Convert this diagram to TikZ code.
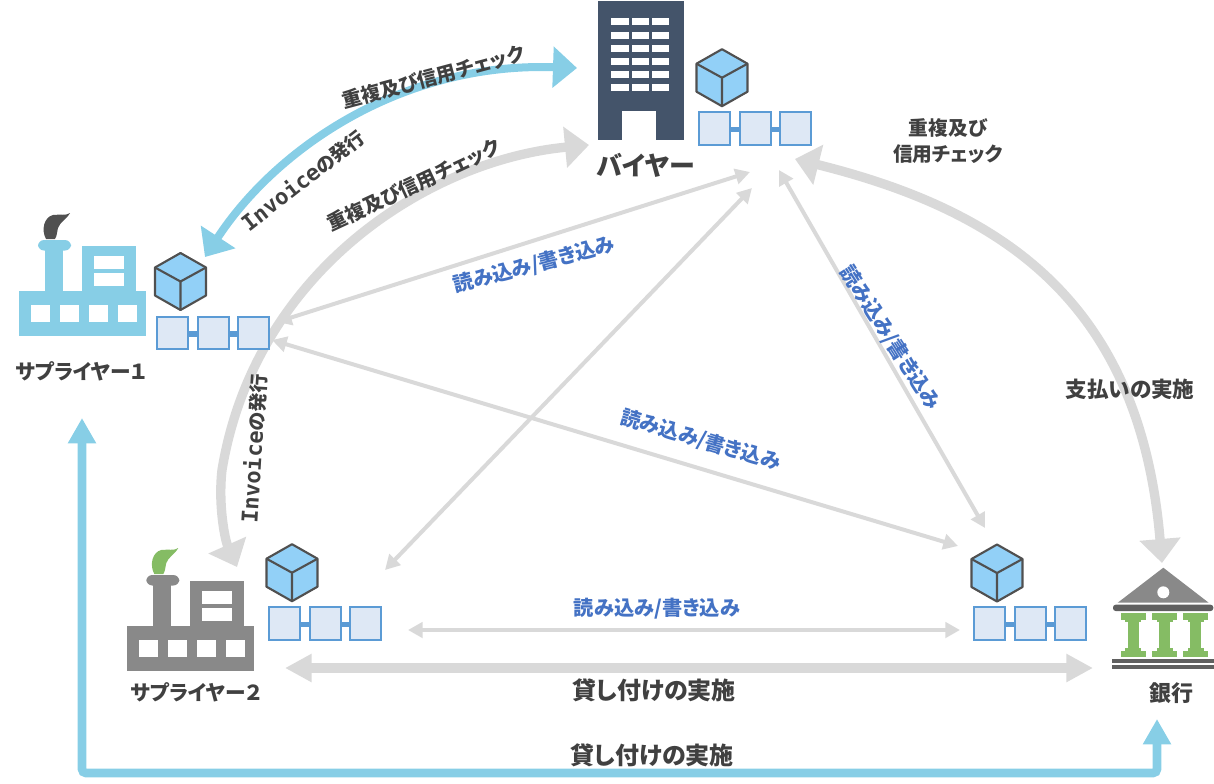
\documentclass[tikz,border=0pt]{standalone}
\usepackage{fontspec}
\setmainfont[RawFeature=+palt]{Noto Sans CJK JP}
\newfontfamily\monolatin{DejaVu Sans Mono}
\usetikzlibrary{arrows.meta}
\definecolor{gline}{HTML}{D9D9D9}
\definecolor{sky}{HTML}{87CEE6}
\definecolor{txt}{HTML}{404040}
\definecolor{bluetxt}{HTML}{4472C4}
\definecolor{chainfill}{HTML}{DEE8F5}
\definecolor{chainline}{HTML}{5B9BD5}
\definecolor{cubefill}{HTML}{92D0F7}
\definecolor{cubeline}{HTML}{505050}
\definecolor{navy}{HTML}{44546A}
\definecolor{fgray}{HTML}{898989}
\definecolor{leaf}{HTML}{85BC64}
\definecolor{bankdark}{HTML}{606060}
\tikzset{
  px/.style={x=0.75pt,y=-0.75pt},
  lbl/.style={font=\bfseries\fontsize{#1}{#1}\selectfont,text=txt,inner sep=0pt,align=center},
  bl/.style={font=\bfseries\fontsize{15.2}{16}\selectfont,text=bluetxt,inner sep=0pt},
  thinarrow/.style={draw=gline,line width=3pt,{Triangle[length=11pt,width=11.5pt]}-{Triangle[length=11pt,width=11.5pt]}},
  midarrow/.style={draw=gline,line width=7pt,{Triangle[length=20pt,width=20pt]}-{Triangle[length=20pt,width=20pt]}},
  bigcurve/.style={line width=#1,{Triangle[length=18pt,width=30pt]}-{Triangle[length=18pt,width=30pt]}},
  elbow/.style={draw=sky,line width=6.5pt,rounded corners=3pt,{Triangle[length=19pt,width=20pt]}-{Triangle[length=19pt,width=20pt]}},
  cubeface/.style={draw=cubeline,line width=1.6pt,line join=round,fill=cubefill},
  chainbox/.style={draw=chainline,line width=1.5pt,fill=chainfill},
  pics/cube/.style={code={
    \draw[cubeface] (-25.5,-14) -- (0,-28.5) -- (25.5,-14) -- (25.5,14) -- (0,28.5) -- (-25.5,14) -- cycle;
    \draw[cubeline,line width=1.6pt,line join=round] (-25.5,-14) -- (0,0) -- (25.5,-14) (0,0) -- (0,28.5);
  }},
  pics/chain/.style={code={
    \fill[chainline] (30,14.5) rectangle (85,20);
    \draw[chainbox] (0.5,0) rectangle (31.5,32.5);
    \draw[chainbox] (41.5,0) rectangle (72.5,32.5);
    \draw[chainbox] (81.5,0) rectangle (112.5,32.5);
  }}
}
\newcommand{\factoryicon}[4]{%
  \begin{scope}[shift={(#1,#2)}]
    \fill[#3] (19,291) rectangle (146,336);
    \fill[#3] (45,245) rectangle (63,292);
    \fill[#3,rounded corners=4.5pt] (38,240) rectangle (71,250.5);
    \fill[#3] (82,246) rectangle (136,292);
    \fill[white] (94,256) rectangle (124,269);
    \fill[white] (94,273) rectangle (124,286);
    \foreach \wx in {31,60,89,118}{\fill[white] (\wx,305) rectangle (\wx+18.5,322);}
    \fill[#4] (46,239) .. controls (41,230) and (44,217) .. (53,215) .. controls (60,214) and (66,216) .. (70,213)
      .. controls (66,220) and (60,222) .. (58,228) .. controls (57,232) and (57,236) .. (55,239) -- cycle;
  \end{scope}}
\begin{document}
\begin{tikzpicture}[px]
\useasboundingbox (0,0) rectangle (1214,783);
% anchor coordinates for the connectors
\coordinate (blueA) at (205,257);
\coordinate (blueB) at (577,68);
\coordinate (grayA) at (589,145);
\coordinate (grayM) at (222,470);
\coordinate (grayB) at (237,567);
\coordinate (payA) at (795,159);
\coordinate (payB) at (1162,563);
\coordinate (s1up) at (277,322);
\coordinate (byL) at (750,172);
\coordinate (s1dn) at (272,340);
\coordinate (nodeB) at (958,546);
\coordinate (s2up) at (385,570);
\coordinate (byD) at (752,188);
\coordinate (byR) at (779,170);
\coordinate (nodeT) at (985,528);
\coordinate (s2r) at (408,630);
\coordinate (nodeL) at (960,630);
\coordinate (loanA) at (285,668);
\coordinate (loanB) at (1093,668);
\coordinate (upS1) at (82,418);
\coordinate (cnL) at (82,773);
\coordinate (cnR) at (1157,773);
\coordinate (upBk) at (1157,719);
% connectors
\draw[thinarrow] (s1up) -- (byL);
\draw[thinarrow] (s1dn) -- (nodeB);
\draw[thinarrow] (s2up) -- (byD);
\draw[thinarrow] (byR) -- (nodeT);
\draw[thinarrow] (s2r) -- (nodeL);
\draw[midarrow] (loanA) -- (loanB);
\draw[elbow] (upS1) -- (cnL) -- (cnR) -- (upBk);
\draw[bigcurve=7pt,draw=gline] (grayA) .. controls (430,160) and (255,270) .. (grayM) .. controls (218,505) and (225,540) .. (grayB);
\draw[bigcurve=7pt,draw=gline] (payA) .. controls (1000,210) and (1140,300) .. (payB);
\draw[bigcurve=6pt,draw=sky] (blueA) .. controls (275,150) and (400,62) .. (blueB);
% buyer building
\fill[navy] (598,1) rectangle (684,140);
\foreach \wy in {18,31.5,45,58,71,84}{
  \fill[white] (611,\wy) rectangle (629,\wy+7);
  \fill[white] (632,\wy) rectangle (649,\wy+7);
  \fill[white] (652,\wy) rectangle (669,\wy+7);
}
\fill[white] (622,111) rectangle (656,140);
% factories
\factoryicon{0}{0}{sky}{cubeline}
\factoryicon{108.3}{335}{fgray}{leaf}
% bank
\fill[fgray] (1117.7,602.7) -- (1163.3,567.7) -- (1208.7,602.7) -- cycle;
\fill[white] (1163.3,592.3) circle (6);
\fill[bankdark,rounded corners=2pt] (1113,604.7) rectangle (1213.3,611);
\foreach \cx in {1133.3,1164.7,1195.7}{
  \fill[leaf] (\cx-12.3,613.3) rectangle (\cx+12.3,619.5);
  \fill[leaf] (\cx-8,619) rectangle (\cx+8,622);
  \fill[leaf] (\cx-5.7,621) rectangle (\cx+5.7,649);
  \fill[leaf] (\cx-8,648) rectangle (\cx+8,651);
  \fill[leaf] (\cx-12.3,650.7) rectangle (\cx+12.3,657);
}
\fill[bankdark] (1112.3,659) rectangle (1214,662.7);
\fill[bankdark] (1112.3,664.7) rectangle (1214,668.7);
% blocks
\pic at (180.5,281.5) {cube};
\pic at (722,77.7) {cube};
\pic at (292,572.7) {cube};
\pic at (997,573) {cube};
\pic at (156,316.5) {chain};
\pic at (698,112) {chain};
\pic at (268,607) {chain};
\pic at (973,607) {chain};
% labels
\node[lbl=19.5] (buyer) at (646,165) {バイヤー};
\node[lbl=15.5] (sup1) at (81,371) {サプライヤー１};
\node[lbl=15.5] (sup2) at (196,692) {サプライヤー２};
\node[lbl=16.5] (bank) at (1171,693) {銀行};
\node[lbl=18] (loan1) at (654,690) {貸し付けの実施};
\node[lbl=18] (loan2) at (652,755) {貸し付けの実施};
\node[lbl=16.2] (pay) at (1130,389) {支払いの実施};
\node[lbl=14.8] (chk3) at (948,141) {重複及び\\[5pt]信用チェック};
\node[lbl=14.8,rotate=15] (chk1) at (433,77) {重複及び信用チェック};
\node[lbl=14.8,rotate=25] (chk2) at (414,185) {重複及び信用チェック};
\node[lbl=14.2,rotate=38] (inv1) at (303,180) {{\monolatin\fontsize{16.5}{17}\selectfont Invoice}の発行};
\node[lbl=14.2,rotate=86.5] (inv2) at (254,449) {{\monolatin\fontsize{16.5}{17}\selectfont Invoice}の発行};
\node[bl] (rw1) at (657,609) {読み込み/書き込み};
\node[bl,rotate=14.7] (rw2) at (534,265) {読み込み/書き込み};
\node[bl,rotate=-16.4] (rw3) at (700.7,440) {読み込み/書き込み};
\node[bl,rotate=-57.3] (rw4) at (890,338) {読み込み/書き込み};
\end{tikzpicture}
\end{document}
